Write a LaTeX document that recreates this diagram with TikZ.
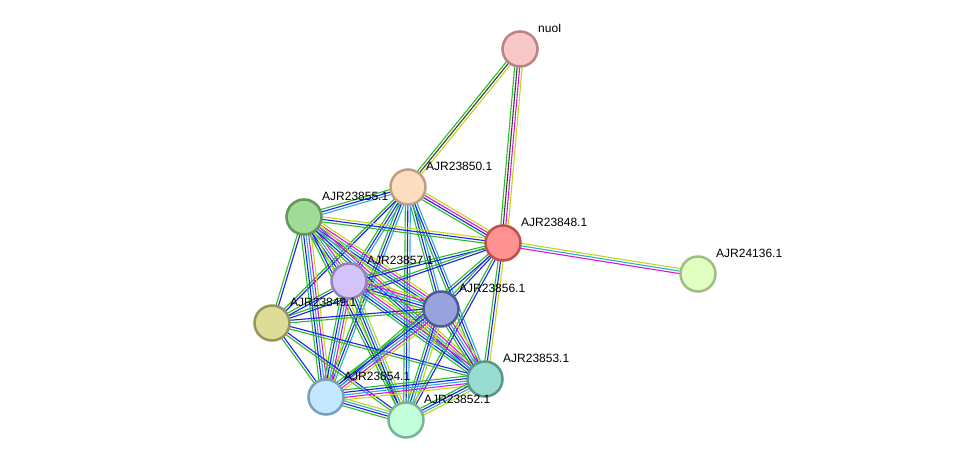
\documentclass[tikz,border=0pt]{standalone}
\usepackage{fontspec}
\setmainfont{Liberation Sans}
\usetikzlibrary{calc}
\pgfdeclarelayer{back}
\pgfdeclarelayer{bg}
\pgfsetlayers{back,bg,main}
\definecolor{sg}{RGB}{40,190,40}
\definecolor{sb}{RGB}{30,30,240}
\definecolor{sc}{RGB}{40,175,215}
\definecolor{sm}{RGB}{220,20,220}
\definecolor{sy}{RGB}{195,215,20}
\definecolor{sk}{RGB}{60,60,60}
\newcommand{\stredge}[4]{%
  \foreach \c [count=\i] in {#4} {%
    \pgfmathsetmacro{\off}{(\i-(#3+1)/2)*2.5}%
    \draw[line width=1.1pt, \c] ($(#1.center)!\off pt!90:(#2.center)$) -- ($(#2.center)!\off pt!-90:(#1.center)$);
  }}
\tikzset{
  prot/.style={circle, minimum size=35pt, inner sep=0pt, line width=2.5pt},
  lbl/.style={anchor=base west, inner sep=0pt, font=\fontsize{12}{14}\selectfont}
}
\newcommand{\plabel}[2]{\node[lbl] (#1-l) at ($(#1.center)+(18,-17)$) {#2};}
\begin{document}
\begin{tikzpicture}[x=1pt,y=-1pt]
\useasboundingbox (0,0) rectangle (975,466);
\begin{pgfonlayer}{back}
\fill[white] (0,0) rectangle (975,466);
\end{pgfonlayer}
\node[prot, fill={rgb,255:red,248;green,200;blue,200}, draw={rgb,255:red,190;green,130;blue,130}] (nuoI) at (520,49) {};
\node[prot, fill={rgb,255:red,253;green,222;blue,192}, draw={rgb,255:red,190;green,160;blue,130}] (a50) at (408,187) {};
\node[prot, fill={rgb,255:red,160;green,220;blue,150}, draw={rgb,255:red,100;green,150;blue,90}] (a55) at (304,217) {};
\node[prot, fill={rgb,255:red,255;green,145;blue,145}, draw={rgb,255:red,190;green,80;blue,80}] (a48) at (503,243) {};
\node[prot, fill={rgb,255:red,225;green,255;blue,192}, draw={rgb,255:red,160;green,190;blue,130}] (a36) at (698,274) {};
\node[prot, fill={rgb,255:red,210;green,196;blue,250}, draw={rgb,255:red,150;green,130;blue,180}] (a57) at (349,281) {};
\node[prot, fill={rgb,255:red,222;green,220;blue,150}, draw={rgb,255:red,150;green,150;blue,90}] (a49) at (272,323) {};
\node[prot, fill={rgb,255:red,152;green,162;blue,220}, draw={rgb,255:red,80;green,90;blue,150}] (a56) at (441,309) {};
\node[prot, fill={rgb,255:red,152;green,220;blue,210}, draw={rgb,255:red,90;green,150;blue,140}] (a53) at (485,379) {};
\node[prot, fill={rgb,255:red,196;green,232;blue,255}, draw={rgb,255:red,120;green,160;blue,190}] (a54) at (326,397) {};
\node[prot, fill={rgb,255:red,196;green,255;blue,220}, draw={rgb,255:red,120;green,180;blue,150}] (a52) at (406,420) {};
\begin{pgfonlayer}{bg}
\stredge{nuoI}{a50}{3}{sg,sk,sy}
\stredge{nuoI}{a48}{4}{sg,sk,sm,sy}
\stredge{a48}{a36}{3}{sm,sc,sy}
\stredge{a50}{a48}{4}{sg,sb,sm,sy}
\stredge{a50}{a55}{3}{sg,sb,sc}
\stredge{a50}{a57}{3}{sg,sb,sc}
\stredge{a50}{a49}{2}{sg,sb}
\stredge{a50}{a56}{3}{sg,sb,sc}
\stredge{a50}{a53}{3}{sg,sb,sc}
\stredge{a50}{a54}{3}{sg,sb,sc}
\stredge{a50}{a52}{3}{sg,sb,sc}
\stredge{a55}{a48}{3}{sg,sb,sy}
\stredge{a55}{a57}{5}{sg,sb,sc,sm,sy}
\stredge{a55}{a49}{2}{sg,sb}
\stredge{a55}{a56}{5}{sg,sb,sc,sm,sy}
\stredge{a55}{a53}{5}{sg,sb,sc,sm,sy}
\stredge{a55}{a54}{5}{sg,sb,sc,sm,sy}
\stredge{a55}{a52}{3}{sg,sb,sy}
\stredge{a48}{a57}{2}{sg,sb}
\stredge{a48}{a49}{2}{sg,sb}
\stredge{a48}{a56}{2}{sg,sb}
\stredge{a48}{a53}{3}{sg,sb,sy}
\stredge{a48}{a54}{2}{sg,sb}
\stredge{a48}{a52}{2}{sg,sb}
\stredge{a57}{a49}{2}{sg,sb}
\stredge{a57}{a56}{5}{sg,sb,sc,sm,sy}
\stredge{a57}{a53}{5}{sg,sb,sc,sm,sy}
\stredge{a57}{a54}{5}{sg,sb,sc,sm,sy}
\stredge{a57}{a52}{4}{sg,sb,sc,sy}
\stredge{a49}{a56}{2}{sg,sb}
\stredge{a49}{a53}{2}{sg,sb}
\stredge{a49}{a54}{2}{sg,sb}
\stredge{a49}{a52}{2}{sg,sb}
\stredge{a56}{a53}{5}{sg,sb,sc,sm,sy}
\stredge{a56}{a54}{5}{sg,sb,sc,sm,sy}
\stredge{a56}{a52}{4}{sg,sb,sc,sy}
\stredge{a53}{a54}{5}{sg,sb,sc,sm,sy}
\stredge{a53}{a52}{4}{sg,sb,sc,sy}
\stredge{a54}{a52}{4}{sg,sb,sc,sy}
\end{pgfonlayer}
\plabel{nuoI}{nuoI}
\plabel{a50}{AJR23850.1}
\plabel{a55}{AJR23855.1}
\plabel{a48}{AJR23848.1}
\plabel{a36}{AJR24136.1}
\plabel{a57}{AJR23857.1}
\plabel{a49}{AJR23849.1}
\plabel{a56}{AJR23856.1}
\plabel{a53}{AJR23853.1}
\plabel{a54}{AJR23854.1}
\plabel{a52}{AJR23852.1}
\end{tikzpicture}
\end{document}
